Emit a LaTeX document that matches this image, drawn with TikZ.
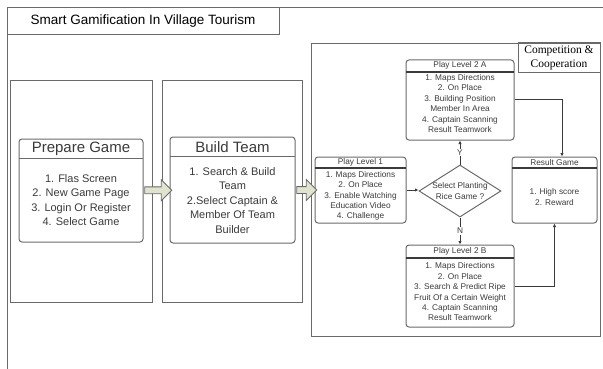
\documentclass[tikz,border=0pt]{standalone}
\usepackage{fontspec}
\setmainfont{Liberation Sans}
\newfontfamily\capfont{Liberation Serif}
\usepackage{tikz}
\usetikzlibrary{
    shapes.geometric,
    shapes.arrows,
    arrows.meta,
    calc,
    positioning
}
\definecolor{edgegray}{HTML}{6A6A6A}
\definecolor{inkgray}{HTML}{3A3A3A}
\definecolor{khaki}{HTML}{E2E3CF}
\tikzset{lane/.style={draw=edgegray, line width=1pt, inner sep=0pt}}
\tikzset{card/.style={draw=edgegray, line width=1pt, rounded corners=3pt, inner sep=0pt}}
\tikzset{bigcap/.style={inner sep=0pt, text=inkgray, font=\fontsize{15}{17}\selectfont}}
\tikzset{bigtxt/.style={inner sep=0pt, align=center, text=inkgray, font=\fontsize{11}{14.5}\selectfont}}
\tikzset{smallcap/.style={inner sep=0pt, text=inkgray, font=\fontsize{8.3}{10}\selectfont}}
\tikzset{smalltxt/.style={inner sep=0pt, align=center, text=inkgray, font=\fontsize{8.3}{10.4}\selectfont}}
\tikzset{fatarrow/.style={single arrow, draw=edgegray, fill=khaki, line width=0.8pt, inner sep=3pt, single arrow head extend=7pt, single arrow head indent=0pt}}
\tikzset{flow/.style={draw=inkgray, line width=1pt, -{Latex[length=3.5pt,width=3.5pt]}}}
\tikzset{yn/.style={fill=white, inner sep=1pt, text=inkgray, font=\fontsize{8.3}{10}\selectfont}}

\begin{document}
\begin{tikzpicture}[x=1pt, y=-1pt]
                        \useasboundingbox (0, 0) rectangle (603, 369);
                        % page frame and title tab
                        \draw[edgegray, line width=1pt] (7, 369) -- (7, 8) -- (603, 8);
                        \node[lane, fill=white, minimum width=272, minimum height=27, text=black, font=\fontsize{13.5}{15}\selectfont] (title) at (143, 21.5) {Smart Gamification In Village Tourism};

                        % the three lanes
                        \node[lane, minimum width=142, minimum height=221] (prepLane) at (81, 191.5) {};
                        \node[lane, minimum width=140, minimum height=221] (teamLane) at (232, 191.5) {};
                        \node[lane, minimum width=289, minimum height=292] (compLane) at (455.5, 190) {};
                        \node[lane, minimum width=82, minimum height=30, align=center, text=black, font=\capfont\fontsize{11.5}{14}\selectfont] (compTag) at (559, 58) {Competition \&\\Cooperation};

                        % prepare game
                        \node[card, minimum width=124, minimum height=103] (prep) at (81, 190.5) {};
                        \node[bigcap, minimum width=124, minimum height=20, anchor=north] (prepHead) at (prep.north) {Prepare Game};
                        \draw[edgegray, line width=1pt] (prepHead.south west) -- (prepHead.south east);
                        \node[bigtxt] (prepBody) at (81, 200) {1. Flas Screen\\2. New Game Page\\3. Login Or Register\\4. Select Game};

                        % build team
                        \node[card, minimum width=125, minimum height=106] (team) at (232.5, 190) {};
                        \node[bigcap, minimum width=125, minimum height=20, anchor=north] (teamHead) at (team.north) {Build Team};
                        \draw[edgegray, line width=1pt] (teamHead.south west) -- (teamHead.south east);
                        \node[bigtxt] (teamBody) at (232.5, 200.5) {1. Search \& Build\\Team\\2.Select Captain \&\\Member Of Team\\Builder};

                        % play level 1
                        \node[card, minimum width=91, minimum height=66] (lvlOne) at (360.5, 190) {};
                        \node[smallcap, minimum width=91, minimum height=11, anchor=north] (lvlOneHead) at (lvlOne.north) {Play Level 1};
                        \draw[inkgray, line width=1.3pt] (lvlOneHead.south west) -- (lvlOneHead.south east);
                        \node[smalltxt] (lvlOneBody) at (360.5, 196) {1. Maps Directions\\2. On Place\\3. Enable Watching\\Education Video\\4. Challenge};

                        % decision
                        \node[diamond, draw=edgegray, line width=1pt, inner sep=0pt, minimum width=82, minimum height=52] (pick) at (460, 191) {};
                        \node[smalltxt] (pickText) at (pick.center) {Select Planting\\Rice Game ?};

                        % play level 2 A
                        \node[card, minimum width=108, minimum height=80] (lvlA) at (460, 100) {};
                        \node[smallcap, minimum width=108, minimum height=12, anchor=north] (lvlAHead) at (lvlA.north) {Play Level 2 A};
                        \draw[inkgray, line width=1.3pt] (lvlAHead.south west) -- (lvlAHead.south east);
                        \node[smalltxt] (lvlABody) at (460, 103.5) {1. Maps Directions\\2. On Place\\3. Building Position\\Member In Area\\4. Captain Scanning\\Result Teamwork};

                        % play level 2 B
                        \node[card, minimum width=108, minimum height=82] (lvlB) at (460, 286) {};
                        \node[smallcap, minimum width=108, minimum height=13, anchor=north] (lvlBHead) at (lvlB.north) {Play Level 2 B};
                        \draw[inkgray, line width=1.3pt] (lvlBHead.south west) -- (lvlBHead.south east);
                        \node[smalltxt] (lvlBBody) at (460, 292) {1. Maps Directions\\2. On Place\\3. Search \& Predict Ripe\\Fruit Of a Certain Weight\\4. Captain Scanning\\Result Teamwork};

                        % result game
                        \node[card, minimum width=85, minimum height=66] (result) at (554.5, 190) {};
                        \node[smallcap, minimum width=85, minimum height=11, anchor=north] (resultHead) at (result.north) {Result Game};
                        \draw[inkgray, line width=1.3pt] (resultHead.south west) -- (resultHead.south east);
                        \node[smalltxt] (resultBody) at (554.5, 197) {1. High score\\2. Reward};

                        % fat arrows between the stages
                        \node[fatarrow, minimum height=27] (stepOne) at ($(prep.east)!0.5!(team.west)$) {};
                        \node[fatarrow, minimum height=20] (stepTwo) at ($(team.east)!0.5!(lvlOne.west)$) {};

                        \draw
                        (lvlOne.east) edge[flow] (lvlOne.east -| pick.west)
                        (pick.north) edge[flow] node[yn] {Y} (lvlA.south)
                        (pick.south) edge[flow] node[yn] {N} (lvlB.north);
                        \draw[flow] (lvlA.east) -| ([xshift=7.5pt]result.north);
                        \draw[flow] (lvlB.east) -| (result.south);
                    \end{tikzpicture}
\end{document}
